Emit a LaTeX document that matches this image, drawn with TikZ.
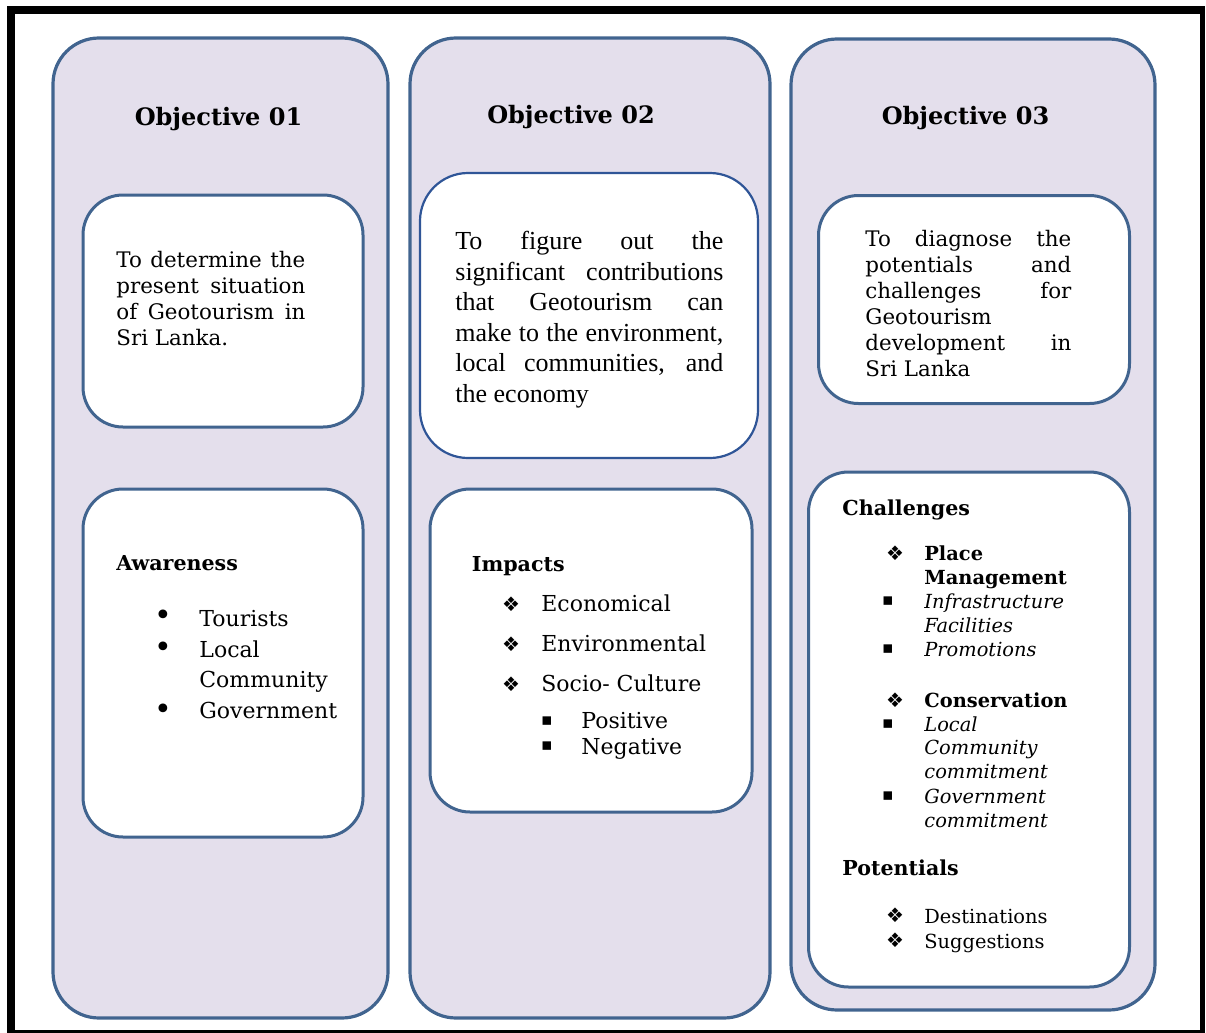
\documentclass[tikz,border=0pt]{standalone}
\usepackage{fontspec}
\setmainfont{DejaVu Serif}
\newfontfamily\timesfont{Liberation Serif}
\newfontfamily\symfont{DejaVu Sans}
\definecolor{colframe}{HTML}{41648F}
\definecolor{colfill}{HTML}{E4DFEC}
\definecolor{boxblue}{HTML}{2F5597}
\tikzset{
  ColumnStyle/.style = { draw=colframe, fill=colfill, line width=1.6pt,
                         rounded corners=23pt },
  BoxStyle/.style = { draw=colframe, fill=white, line width=1.5pt,
                      rounded corners=20pt },
  TitleStyle/.style = { inner sep=0pt, anchor=base,
                        font=\fontsize{12}{14}\selectfont\bfseries },
  TextStyle/.style = { inner sep=0pt, anchor=base west, align=justify,
                       font=\fontsize{10.7}{13}\selectfont },
  HeadStyle/.style = { inner sep=0pt, anchor=base west,
                       font=\fontsize{10.3}{12}\selectfont\bfseries },
  ItemStyle/.style = { inner sep=0pt, anchor=base west,
                       font=\fontsize{11}{13}\selectfont },
  SmallItemStyle/.style = { inner sep=0pt, anchor=base west,
                            font=\fontsize{9.7}{12}\selectfont },
  MarkStyle/.style = { inner sep=0pt, font=\symfont\fontsize{10}{12}\selectfont }
}

\begin{document}
\begin{tikzpicture}[x=0.5pt, y=-0.5pt]
  \useasboundingbox (0,0) rectangle (1206,1033);
  % frame
  \fill (7,6) rectangle (15,1033);
  \fill (7,6) rectangle (1205,14);
  \fill (1200,6) rectangle (1205,1033);
  \fill (7,1030) rectangle (1205,1033);
  % columns
  \node[ColumnStyle, minimum width=167.5pt, minimum height=490pt] (col1) at (220.5,528) {};
  \node[ColumnStyle, minimum width=180pt, minimum height=490pt] (col2) at (590,528) {};
  \node[ColumnStyle, minimum width=182pt, minimum height=485.5pt] (col3) at (973,524.5) {};
  \node[TitleStyle] (obj1) at (218.5,125) {Objective 01};
  \node[TitleStyle] (obj2) at (571,123) {Objective 02};
  \node[TitleStyle] (obj3) at (965.5,124) {Objective 03};
  % inner boxes
  \node[BoxStyle, minimum width=140pt, minimum height=116pt] (aim1) at (223,311) {};
  \node[BoxStyle, minimum width=140pt, minimum height=174pt] (list1) at (223,663) {};
  \node[BoxStyle, draw=boxblue, line width=1.1pt, rounded corners=24pt,
        minimum width=169pt, minimum height=142.5pt] (aim2) at (589,315.5) {};
  \node[BoxStyle, minimum width=161pt, minimum height=161.5pt] (list2) at (591,650.5) {};
  \node[BoxStyle, minimum width=155.5pt, minimum height=104pt] (aim3) at (974,299.5) {};
  \node[BoxStyle, minimum width=160.5pt, minimum height=257.5pt] (list3) at (969,729.5) {};
  % objective texts
  \node[TextStyle, text width=94.5pt] (aimtext1) at (116,267)
    {To determine the\linebreak present situation\linebreak of Geotourism in\linebreak Sri Lanka.};
  \node[TextStyle, text width=134pt, font=\timesfont\fontsize{13}{15.25}\selectfont] (aimtext2) at (455,249.5)
    {To figure out the\linebreak significant contributions\linebreak that Geotourism can\linebreak
     make to the environment,\linebreak local communities, and\linebreak the economy};
  \node[TextStyle, text width=103pt] (aimtext3) at (865,246)
    {To diagnose the\linebreak potentials and\linebreak challenges for\linebreak Geotourism\newline
     development in\linebreak Sri Lanka};
  % awareness
  \node[HeadStyle] (head1) at (116,570) {Awareness};
  \foreach \y in {618,650,712}
    \node[MarkStyle, font=\symfont\fontsize{15}{16}\selectfont] (dot\y) at (163,\y) {•};
  \foreach \y/\t in {626/Tourists, 657/Local, 687/Community, 718/Government}
    \node[ItemStyle] (aware\y) at (199,\y) {\t};
  % impacts
  \node[HeadStyle] (head2) at (471.5,571) {Impacts};
  \foreach \y in {604,644,684}
    \node[MarkStyle] (diam\y) at (511,\y) {❖};
  \foreach \y/\t in {611/Economical, 651/Environmental, 691/Socio- Culture}
    \node[ItemStyle] (impact\y) at (541,\y) {\t};
  \foreach \y in {721,746}
    \node[MarkStyle, font=\symfont\fontsize{8.5}{10}\selectfont] (sq\y) at (547,\y) {▪};
  \node[ItemStyle] (pos) at (581,728) {Positive};
  \node[ItemStyle] (neg) at (581,754) {Negative};
  % challenges and potentials
  \node[HeadStyle] (head3) at (842,515) {Challenges};
  \node[HeadStyle] (head4) at (842,875) {Potentials};
  \foreach \y in {553,700,915,940}
    \node[MarkStyle] (diam\y) at (895,\y) {❖};
  \foreach \y in {601,649,724,796}
    \node[MarkStyle, font=\symfont\fontsize{8.5}{10}\selectfont] (sq\y) at (888,\y) {▪};
  \foreach \y/\t in {560/\textbf{Place}, 584/\textbf{Management}, 608/\textit{Infrastructure},
                     632/\textit{Facilities}, 656/\textit{Promotions}, 707/\textbf{Conservation},
                     731/\textit{Local}, 754/\textit{Community}, 778/\textit{commitment},
                     803/\textit{Government}, 827/\textit{commitment}, 923/Destinations,
                     948/Suggestions}
    \node[SmallItemStyle] (chal\y) at (924,\y) {\t};
\end{tikzpicture}
\end{document}
